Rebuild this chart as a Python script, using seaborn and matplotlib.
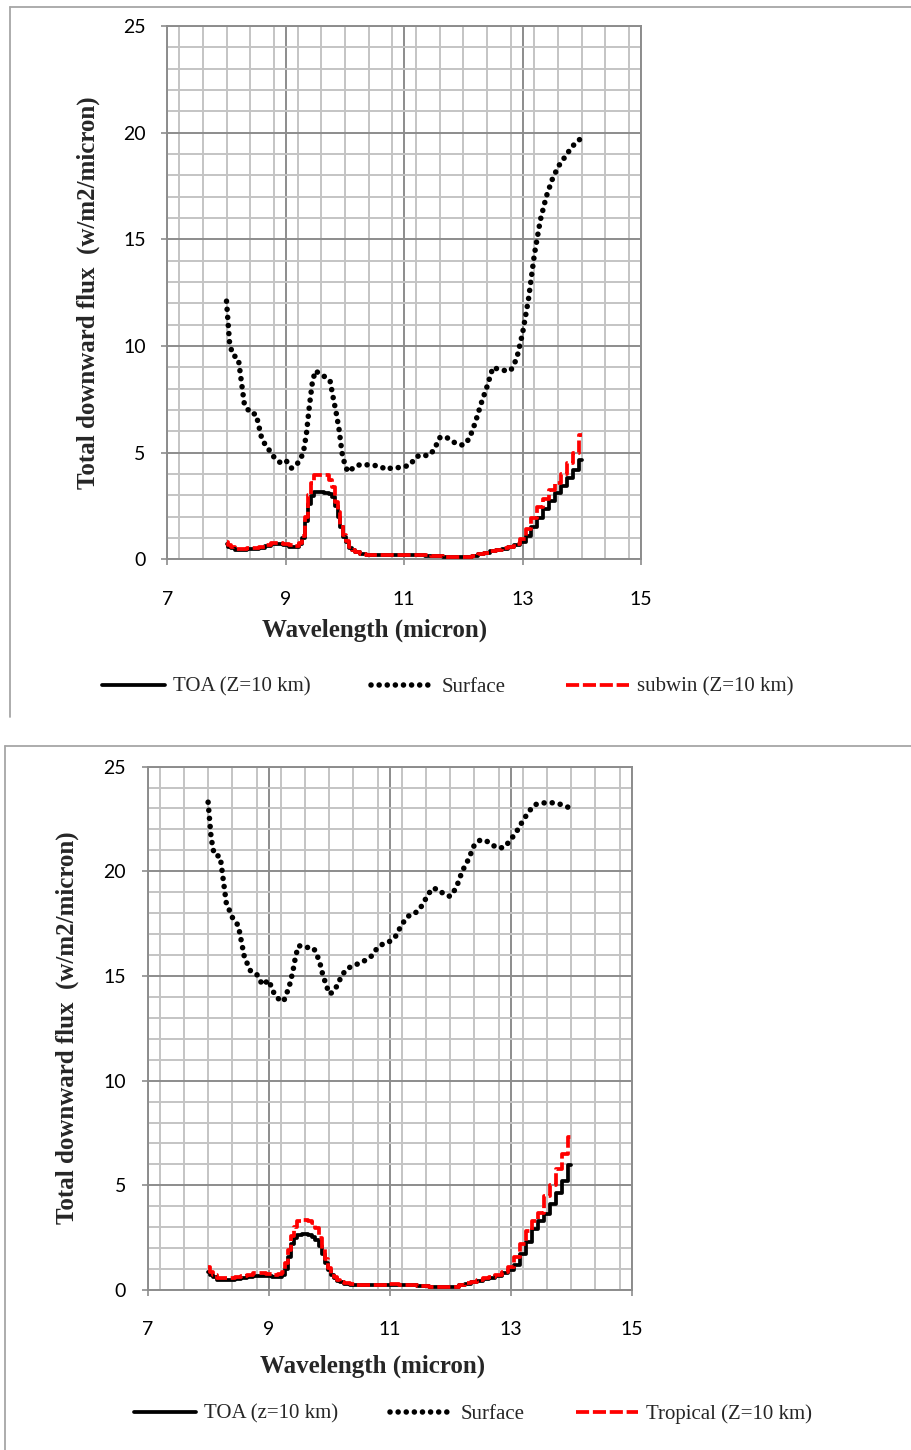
import numpy as np
import pandas as pd
import seaborn as sns
import matplotlib
matplotlib.use("Agg")
import matplotlib.pyplot as plt
from matplotlib.lines import Line2D
from matplotlib.ticker import MultipleLocator

# ---------------- data ----------------
wavelength = [8.0, 8.05, 8.1, 8.2, 8.3, 8.4, 8.5, 8.6, 8.7, 8.8, 8.9,
              9.0, 9.1, 9.2, 9.25, 9.3, 9.35, 9.4, 9.45, 9.5, 9.6, 9.7, 9.75, 9.8, 9.85, 9.9, 9.95,
              10.0, 10.05, 10.1, 10.15, 10.2, 10.3, 10.4, 10.5, 10.6, 10.7, 10.8, 10.9,
              11.0, 11.1, 11.2, 11.3, 11.4, 11.5, 11.6, 11.7, 11.8, 11.9,
              12.0, 12.1, 12.2, 12.3, 12.4, 12.5, 12.6, 12.7, 12.8, 12.9,
              13.0, 13.1, 13.2, 13.3, 13.4, 13.5, 13.6, 13.7, 13.8, 13.9, 14.0]

# panel 1 (subwin)
surface_1 = [12.1, 10.2, 9.6, 9.4, 7.3, 6.85, 6.8, 5.6, 5.2, 4.8, 4.55,
             4.65, 4.27, 4.5, 4.7, 5.04, 5.9, 7.2, 8.3, 8.84, 8.65, 8.5, 8.35, 7.6, 6.9, 6.1, 5.0,
             4.42, 4.1, 4.2, 4.3, 4.4, 4.45, 4.42, 4.4, 4.35, 4.2, 4.3, 4.3,
             4.34, 4.42, 4.8, 4.9, 4.85, 5.1, 5.7, 5.75, 5.55, 5.4,
             5.35, 5.65, 6.4, 7.3, 8.1, 9.0, 8.9, 8.85, 8.85, 9.4,
             10.6, 12.2, 14.3, 15.9, 17.0, 17.8, 18.4, 18.8, 19.2, 19.55, 19.75]
toa_1 = [0.72, 0.60, 0.52, 0.43, 0.44, 0.47, 0.50, 0.55, 0.62, 0.70, 0.72,
         0.68, 0.60, 0.58, 0.70, 1.0, 1.8, 2.6, 2.95, 3.15, 3.17, 3.12, 3.05, 2.9, 2.5, 2.0, 1.5,
         1.05, 0.80, 0.55, 0.42, 0.33, 0.24, 0.21, 0.20, 0.19, 0.19, 0.19, 0.20,
         0.20, 0.21, 0.20, 0.18, 0.17, 0.16, 0.15, 0.12, 0.10, 0.09,
         0.10, 0.13, 0.17, 0.23, 0.30, 0.37, 0.44, 0.50, 0.57, 0.68,
         0.82, 1.1, 1.5, 1.95, 2.35, 2.75, 3.1, 3.45, 3.8, 4.2, 4.66]
subwin_1 = [0.80, 0.68, 0.58, 0.48, 0.50, 0.52, 0.55, 0.60, 0.68, 0.76, 0.78,
            0.74, 0.65, 0.62, 0.75, 1.1, 2.0, 3.0, 3.6, 3.95, 3.97, 3.95, 3.7, 3.4, 2.7, 2.2, 1.6,
            1.15, 0.85, 0.60, 0.45, 0.36, 0.26, 0.22, 0.21, 0.20, 0.20, 0.20, 0.21,
            0.21, 0.22, 0.21, 0.19, 0.18, 0.17, 0.15, 0.12, 0.10, 0.09,
            0.10, 0.13, 0.17, 0.23, 0.30, 0.37, 0.44, 0.51, 0.59, 0.72,
            0.95, 1.4, 1.95, 2.45, 2.85, 3.25, 3.6, 4.0, 4.5, 5.0, 5.83]

# panel 2 (tropical)
surface_2 = [23.3, 21.6, 20.8, 20.7, 18.5, 17.8, 17.4, 15.9, 15.25, 15.1, 14.57,
             14.8, 14.1, 13.8, 13.8, 14.17, 14.6, 15.2, 16.0, 16.45, 16.35, 16.38, 16.3, 16.0, 15.6, 15.0, 14.6,
             14.15, 14.2, 14.4, 14.6, 15.0, 15.35, 15.5, 15.6, 15.75, 15.95, 16.35, 16.55,
             16.65, 16.9, 17.45, 17.85, 17.95, 18.2, 18.7, 19.18, 19.15, 18.9,
             18.8, 19.2, 20.0, 20.55, 21.25, 21.5, 21.45, 21.25, 21.1, 21.15,
             21.5, 21.9, 22.4, 22.85, 23.18, 23.25, 23.28, 23.27, 23.22, 23.12, 23.0]
toa_2 = [0.87, 0.70, 0.60, 0.48, 0.47, 0.50, 0.54, 0.57, 0.62, 0.68, 0.68,
         0.65, 0.63, 0.62, 0.70, 1.0, 1.6, 2.2, 2.5, 2.65, 2.67, 2.62, 2.55, 2.4, 2.1, 1.7, 1.3,
         0.95, 0.72, 0.55, 0.45, 0.38, 0.30, 0.26, 0.24, 0.23, 0.23, 0.24, 0.25,
         0.26, 0.26, 0.25, 0.24, 0.22, 0.20, 0.17, 0.15, 0.13, 0.12,
         0.13, 0.16, 0.22, 0.30, 0.38, 0.45, 0.52, 0.58, 0.66, 0.80,
         0.95, 1.2, 1.7, 2.3, 2.9, 3.3, 3.65, 4.1, 4.65, 5.2, 5.97]
tropical_2 = [1.10, 0.85, 0.72, 0.57, 0.55, 0.58, 0.62, 0.66, 0.72, 0.80, 0.80,
              0.76, 0.73, 0.75, 0.85, 1.3, 1.9, 2.6, 3.0, 3.3, 3.32, 3.28, 3.2, 2.95, 2.5, 1.95, 1.5,
              1.05, 0.78, 0.60, 0.48, 0.40, 0.33, 0.28, 0.26, 0.25, 0.24, 0.25, 0.26,
              0.27, 0.27, 0.26, 0.25, 0.23, 0.20, 0.17, 0.15, 0.13, 0.12,
              0.13, 0.16, 0.23, 0.32, 0.40, 0.48, 0.55, 0.62, 0.72, 0.85,
              1.1, 1.6, 2.2, 2.8, 3.3, 3.7, 4.5, 5.0, 5.8, 6.5, 7.32]

x_ticks = [7, 9, 11, 13, 15]
y_ticks = [0, 5, 10, 15, 20, 25]

panels = [
    dict(surface=surface_1, toa=toa_1, third=subwin_1,
         labels=["TOA (Z=10 km)", "Surface", "subwin (Z=10 km)"]),
    dict(surface=surface_2, toa=toa_2, third=tropical_2,
         labels=["TOA (z=10 km)", "Surface", "Tropical (Z=10 km)"]),
]

# ---------------- figure ----------------
sns.set_theme(style="white")
W, H = 911, 1450
fig = plt.figure(figsize=(W / 100, H / 100), dpi=100)

MAJOR = "#8c8c8c"
MINOR = "#c4c4c4"
serif = ["Liberation Serif", "DejaVu Serif"]
sans = ["Lato", "DejaVu Sans"]

def px_rect(l, t, r, b):
    return [l / W, 1 - b / H, (r - l) / W, (b - t) / H]

layouts = [
    dict(rect=px_rect(167.3, 26, 641, 559.3), box=(10, 7, 717),
         xlabel=(375, 630), ylabel=(88, 293), legend_y=687, legend_x=448,
         colspace=2.9),
    dict(rect=px_rect(147.6, 766.6, 631.6, 1290), box=(5, 746, 1450),
         xlabel=(373, 1366), ylabel=(67, 1028), legend_y=1414, legend_x=473,
         colspace=2.45),
]

for p, L in zip(panels, layouts):
    ax = fig.add_axes(L["rect"])
    df = pd.DataFrame({"wl": wavelength, "toa": p["toa"],
                       "surf": p["surface"], "third": p["third"]})
    sns.lineplot(data=df, x="wl", y="toa", ax=ax, color="black", lw=2.7,
                 drawstyle="steps-mid", errorbar=None, label=p["labels"][0], zorder=3)
    sns.lineplot(data=df, x="wl", y="surf", ax=ax, color="black", lw=4.0,
                 linestyle=(0, (0.01, 1.45)), dash_capstyle="round",
                 errorbar=None, label=p["labels"][1], zorder=3)
    sns.lineplot(data=df, x="wl", y="third", ax=ax, color="#ff0000", lw=2.7,
                 linestyle=(0, (3.5, 1.0)), drawstyle="steps-mid",
                 errorbar=None, label=p["labels"][2], zorder=4)

    ax.set_xlim(7, 15)
    ax.set_ylim(0, 25)
    ax.set_xticks(x_ticks)
    ax.set_yticks(y_ticks)
    ax.xaxis.set_minor_locator(MultipleLocator(0.4))
    ax.yaxis.set_minor_locator(MultipleLocator(1))
    ax.grid(which="minor", color=MINOR, lw=1.4, zorder=0)
    ax.grid(which="major", color=MAJOR, lw=1.4, zorder=1)
    ax.set_axisbelow(True)
    ax.tick_params(which="major", direction="out", length=4.5, width=1.2,
                   color=MAJOR, labelsize=14, labelcolor="black")
    ax.tick_params(axis="x", which="major", pad=18, bottom=True)
    ax.tick_params(axis="y", which="major", pad=11, left=True)
    ax.tick_params(which="minor", length=0)
    for lab in ax.get_xticklabels() + ax.get_yticklabels():
        lab.set_fontfamily(sans)
    for s in ax.spines.values():
        s.set_color(MAJOR)
        s.set_linewidth(1.4)
    ax.set_xlabel("")
    ax.set_ylabel("")

    handles, labels = ax.get_legend_handles_labels()
    ax.get_legend().remove()
    fig.legend(handles, labels, loc="center",
               bbox_to_anchor=(L["legend_x"] / W, 1 - L["legend_y"] / H),
               ncol=3, frameon=False, handlelength=3.0, handletextpad=0.4,
               columnspacing=L["colspace"], prop=dict(family=serif, size=15))

    fig.text(L["xlabel"][0] / W, 1 - L["xlabel"][1] / H, "Wavelength (micron)",
             ha="center", va="center", fontsize=18, fontweight="bold",
             family=serif)
    fig.text(L["ylabel"][0] / W, 1 - L["ylabel"][1] / H,
             "Total downward flux  (w/m2/micron)", ha="center", va="center",
             rotation=90, fontsize=18, fontweight="bold", family=serif)

    bx, by, bb = L["box"]
    fig.add_artist(Line2D([bx / W, 1], [1 - by / H, 1 - by / H],
                          transform=fig.transFigure, color="#a6a6a6", lw=1.3))
    fig.add_artist(Line2D([bx / W, bx / W], [1 - by / H, 1 - bb / H],
                          transform=fig.transFigure, color="#a6a6a6", lw=1.3))

fig.savefig("out.png", dpi=100)
